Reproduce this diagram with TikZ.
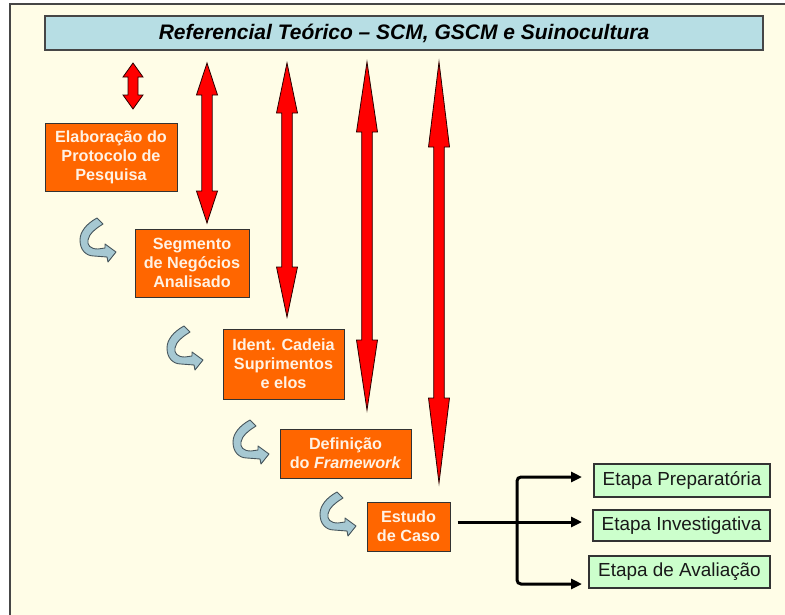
\documentclass[tikz,border=0pt]{standalone}
\usepackage{fontspec}
\setmainfont{Liberation Sans}
\usetikzlibrary{calc,arrows.meta}

\definecolor{paper}{RGB}{255,253,231}
\definecolor{framegray}{RGB}{70,70,70}
\definecolor{titleblue}{RGB}{183,222,228}
\definecolor{stepfill}{RGB}{255,102,0}
\definecolor{steptext}{RGB}{255,242,228}
\definecolor{phasefill}{RGB}{204,255,204}
\definecolor{turnfill}{RGB}{166,200,210}
\definecolor{turnline}{RGB}{70,85,92}

% double-headed block arrow: top, bottom, head length, head half width, shaft half width
\newcommand{\dualarrow}[5]{%
  \filldraw[redarrow] (#1) -- ($(#1)+(#4,#3)$) -- ($(#1)+(#5,#3)$)
    -- ($(#2)+(#5,-#3)$) -- ($(#2)+(#4,-#3)$) -- (#2)
    -- ($(#2)+(-#4,-#3)$) -- ($(#2)+(-#5,-#3)$)
    -- ($(#1)+(-#5,#3)$) -- ($(#1)+(-#4,#3)$) -- cycle;}

\tikzset{
  titlebox/.style={draw=framegray, line width=1.3pt, fill=titleblue,
    font=\fontsize{21}{24}\selectfont\bfseries\itshape, text=black,
    inner sep=0pt},
  stepbox/.style={draw=black!80, line width=1pt, fill=stepfill, text=steptext,
    font=\fontsize{16.2}{19}\selectfont\bfseries, align=center, inner sep=0pt},
  phasebox/.style={draw=black!80, line width=1.2pt, fill=phasefill, text=black!90,
    font=\fontsize{18.9}{21}\selectfont, inner sep=0pt},
  redarrow/.style={fill=red, draw=black!85!red, line width=0.8pt, line join=miter},
  conn/.style={draw=black, line width=3pt, -{Triangle[length=11pt,width=10pt]}},
  turnarrow/.style={fill=turnfill, draw=turnline, line width=0.9pt, line join=round},
  turn/.pic={\filldraw[turnarrow] (17,0) .. controls (6,6) and (0,14) .. (0,22)
      .. controls (0,32) and (6,38) .. (14,38) -- (27,39) -- (28,44) -- (36,34)
      -- (25,26) -- (25,30) -- (18,31) .. controls (10,31) and (7,27) .. (8,22)
      .. controls (9,16) and (15,11) .. (23,6) -- cycle;}
}

\begin{document}
\begin{tikzpicture}[x=1pt,y=-1pt]
\useasboundingbox (0,0) rectangle (785,614);
\fill[white] (0,0) rectangle (785,614);
\begin{scope}
  \clip (0,0) rectangle (785,614);
  \filldraw[fill=paper, draw=framegray, line width=2pt] (10,4) rectangle (800,630);
\end{scope}

% title
\node[titlebox, minimum width=718pt, minimum height=34pt] (title) at (404,33)
  {Referencial Teórico – SCM, GSCM e Suinocultura};

% research steps
\node[stepbox, minimum width=132pt, minimum height=68pt] (protocol) at (111,157)
  {Elaboração do\\Protocolo de\\Pesquisa};
\node[stepbox, minimum width=114pt, minimum height=68pt] (segment) at (192,263)
  {Segmento\\de Negócios\\Analisado};
\node[stepbox, minimum width=121pt, minimum height=70pt] (chain) at (283.5,364)
  {Ident. Cadeia\\Suprimentos\\e elos};
\node[stepbox, minimum width=131pt, minimum height=49pt] (framework) at (345.5,453.5)
  {Definição\\do \textit{Framework}};
\node[stepbox, minimum width=83pt, minimum height=49pt] (case) at (408.5,526.5)
  {Estudo\\de Caso};

% case study phases
\node[phasebox, minimum width=176pt, minimum height=33pt] (prep) at (682,480.5)
  {Etapa Preparatória};
\node[phasebox, minimum width=177pt, minimum height=31pt] (invest) at (681.5,525.5)
  {Etapa Investigativa};
\node[phasebox, minimum width=181pt, minimum height=32pt] (eval) at (679.5,572)
  {Etapa de Avaliação};

% links between the theory and each step
\coordinate (a1t) at (133,63);  \coordinate (a1b) at (133,109);
\coordinate (a2t) at (207,63);  \coordinate (a2b) at (207,223);
\coordinate (a3t) at (287,63);  \coordinate (a3b) at (287,317);
\coordinate (a4t) at (367,62);  \coordinate (a4b) at (367,410);
\coordinate (a5t) at (439,62);  \coordinate (a5b) at (439,483);
\dualarrow{a1t}{a1b}{14}{10}{5}
\dualarrow{a2t}{a2b}{32}{10.5}{5.2}
\dualarrow{a3t}{a3b}{50}{10.5}{5.3}
\dualarrow{a4t}{a4b}{70}{10.5}{5.3}
\dualarrow{a5t}{a5b}{85}{10.5}{5.3}

% turn arrows between steps
\pic at (80,218) {turn};
\pic at (167,326) {turn};
\pic at (233,420) {turn};
\pic at (320,492) {turn};

% fork from the case study to its phases
\coordinate (cs) at ([xshift=7pt,yshift=4.5pt]case.east);
\coordinate (fork) at (517,522);
\coordinate (t1) at (582,477);
\coordinate (t2) at (582,522);
\coordinate (t3) at (582,584);
\draw[conn] (cs) -- (t2);
\draw[conn, rounded corners=4pt] (fork) -- (fork |- t1) -- (t1);
\draw[conn, rounded corners=4pt] (fork) -- (fork |- t3) -- (t3);
\end{tikzpicture}
\end{document}
